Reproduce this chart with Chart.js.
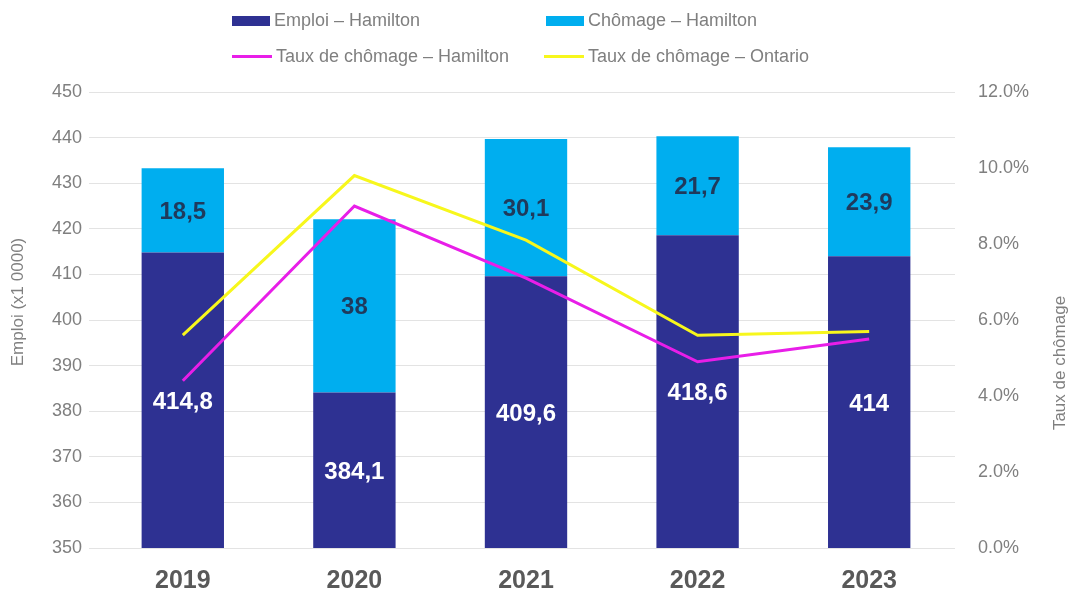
<!DOCTYPE html>
<html lang="fr">
<head>
<meta charset="utf-8">
<title>Emploi et chômage – Hamilton</title>
<script src="https://cdn.jsdelivr.net/npm/chart.js@4.4.1/dist/chart.umd.min.js"></script>
<style>
  html, body { margin: 0; padding: 0; background: #fff; }
  #wrap { position: relative; width: 1071px; height: 594px; font-family: "Liberation Sans", Arial, sans-serif; }
  #legend { position: absolute; left: 0; top: 0; width: 1071px; height: 80px; color: #7f7f7f; font-size: 18px; }
  .item { position: absolute; display: flex; align-items: center; white-space: nowrap; }
  .box { width: 38px; height: 10px; margin-right: 4px; }
  .ln { width: 40px; height: 3px; margin-right: 4px; }
</style>
</head>
<body>
<div id="wrap">
  <canvas id="chart" width="1071" height="594"></canvas>
  <div id="legend"></div>
</div>
<script>
const years = ['2019', '2020', '2021', '2022', '2023'];
const emploiHamilton = [414.8, 384.1, 409.6, 418.6, 414];
const chomageHamilton = [18.5, 38, 30.1, 21.7, 23.9];
const tauxHamilton = [4.4, 9.0, 7.1, 4.9, 5.5];
const tauxOntario = [5.6, 9.8, 8.1, 5.6, 5.7];
const leftTicks = { min: 350, max: 450, step: 10 };
const rightTicks = { min: 0, max: 12, step: 2 };

const NAVY = '#2e3192';
const CYAN = '#00aeef';
const MAGENTA = '#e81ee8';
const YELLOW = '#f7f71c';
const GREY = '#7f7f7f';
const FONT = '"Liberation Sans", Arial, sans-serif';

// legend drawn as html, two rows like the original
const legendItems = [
  { label: 'Emploi – Hamilton', color: NAVY, kind: 'box', x: 232, y: 21 },
  { label: 'Chômage – Hamilton', color: CYAN, kind: 'box', x: 546, y: 21 },
  { label: 'Taux de chômage – Hamilton', color: MAGENTA, kind: 'ln', x: 232, y: 57 },
  { label: 'Taux de chômage – Ontario', color: YELLOW, kind: 'ln', x: 544, y: 57 }
];
const legendEl = document.getElementById('legend');
legendItems.forEach((it) => {
  const d = document.createElement('div');
  d.className = 'item';
  d.style.left = it.x + 'px';
  d.style.top = (it.y - 11) + 'px';
  d.innerHTML = '<span class="' + it.kind + '" style="background:' + it.color + '"></span><span>' + it.label + '</span>';
  legendEl.appendChild(d);
});

function fmt(v) {
  return String(v).replace('.', ',');
}

const barLabels = {
  id: 'barLabels',
  afterDatasetsDraw(chart) {
    const ctx = chart.ctx;
    ctx.save();
    ctx.font = 'bold 24px ' + FONT;
    ctx.textAlign = 'center';
    ctx.textBaseline = 'middle';
    chart.data.datasets.forEach((ds, i) => {
      if (ds.type !== 'bar') return;
      const meta = chart.getDatasetMeta(i);
      ctx.fillStyle = ds.labelColor;
      meta.data.forEach((el, j) => {
        const yTop = el.y;
        const yBot = Math.min(el.base, chart.chartArea.bottom);
        ctx.fillText(fmt(ds.data[j]), el.x, (yTop + yBot) / 2 + 2);
      });
    });
    ctx.restore();
  }
};

const axisTitles = {
  id: 'axisTitles',
  afterDraw(chart) {
    const ctx = chart.ctx;
    ctx.save();
    ctx.fillStyle = GREY;
    ctx.font = '17px ' + FONT;
    ctx.textAlign = 'center';
    ctx.textBaseline = 'middle';
    ctx.translate(18, 302);
    ctx.rotate(-Math.PI / 2);
    ctx.fillText('Emploi (x1 0000)', 0, 0);
    ctx.restore();
    ctx.save();
    ctx.fillStyle = GREY;
    ctx.font = '17px ' + FONT;
    ctx.textAlign = 'center';
    ctx.textBaseline = 'middle';
    ctx.translate(1060, 363);
    ctx.rotate(-Math.PI / 2);
    ctx.fillText('Taux de chômage', 0, 0);
    ctx.restore();
  }
};

new Chart(document.getElementById('chart').getContext('2d'), {
  data: {
    labels: years,
    datasets: [
      {
        type: 'line',
        label: 'Taux de chômage – Hamilton',
        data: tauxHamilton,
        yAxisID: 'y1',
        borderColor: MAGENTA,
        borderWidth: 3,
        pointRadius: 0,
        tension: 0,
        order: 0
      },
      {
        type: 'line',
        label: 'Taux de chômage – Ontario',
        data: tauxOntario,
        yAxisID: 'y1',
        borderColor: YELLOW,
        borderWidth: 3,
        pointRadius: 0,
        tension: 0,
        order: 0
      },
      {
        type: 'bar',
        label: 'Emploi – Hamilton',
        data: emploiHamilton,
        yAxisID: 'y',
        stack: 'hamilton',
        backgroundColor: NAVY,
        labelColor: '#ffffff',
        order: 1
      },
      {
        type: 'bar',
        label: 'Chômage – Hamilton',
        data: chomageHamilton,
        yAxisID: 'y',
        stack: 'hamilton',
        backgroundColor: CYAN,
        labelColor: '#1f3a5c',
        order: 1
      }
    ]
  },
  options: {
    responsive: false,
    animation: false,
    categoryPercentage: 1,
    barPercentage: 0.48,
    layout: { padding: { top: 92, left: 0, right: 0, bottom: 0 } },
    plugins: { legend: { display: false }, tooltip: { enabled: false } },
    scales: {
      x: {
        stacked: true,
        grid: { display: false },
        border: { display: false },
        ticks: { color: '#595959', font: { family: FONT, size: 25, weight: 'bold' }, padding: 10 },
        afterFit: (s) => { s.height = 46; }
      },
      y: {
        stacked: true,
        position: 'left',
        min: leftTicks.min,
        max: leftTicks.max,
        ticks: { stepSize: leftTicks.step, color: GREY, font: { family: FONT, size: 18 }, padding: 7 },
        grid: { color: '#e3e3e3', lineWidth: 1, tickLength: 8 },
        border: { display: false },
        afterFit: (s) => { s.width = 97; }
      },
      y1: {
        position: 'right',
        min: rightTicks.min,
        max: rightTicks.max,
        ticks: {
          stepSize: rightTicks.step,
          color: GREY,
          font: { family: FONT, size: 18 },
          padding: 23,
          callback: (v) => Number(v).toFixed(1) + '%'
        },
        grid: { display: false, drawTicks: false },
        border: { display: false },
        afterFit: (s) => { s.width = 116; }
      }
    }
  },
  plugins: [barLabels, axisTitles]
});
</script>
</body>
</html>
